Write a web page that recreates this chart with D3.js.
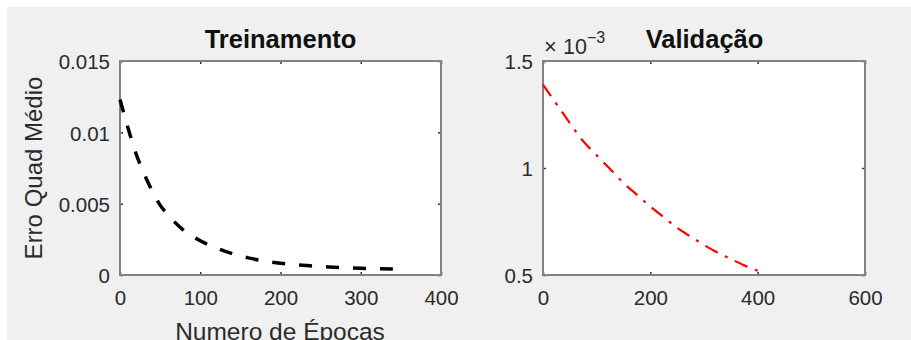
<!DOCTYPE html>
<html><head><meta charset="utf-8">
<script src="https://cdn.jsdelivr.net/npm/d3@7"></script>
<style>
body{margin:0;background:#fff;}
svg{display:block;font-family:"Liberation Sans",Arial,sans-serif;}
</style></head>
<body>
<svg id="c" width="911" height="340"></svg>
<script>
// ---- data ----
const trainEpochs = [0,10,20,30,40,50,60,80,100,120,140,160,180,200,220,240,260,280,300,320,340];
const trainErr = [0.0123,0.0103,0.0085,0.0071,0.0059,0.0049,0.0042,0.0031,0.0024,0.0019,0.0015,0.0012,0.00098,0.00082,0.00071,0.00063,0.00056,0.00051,0.00047,0.00044,0.00042];
const valEpochs = [0,25,50,75,100,125,150,175,200,225,250,275,300,325,350,375,400];
const valErr = [1.39e-3,1.30e-3,1.21e-3,1.125e-3,1.06e-3,0.995e-3,0.93e-3,0.875e-3,0.82e-3,0.77e-3,0.72e-3,0.68e-3,0.64e-3,0.605e-3,0.575e-3,0.545e-3,0.52e-3];
const trainXTicks = [0,100,200,300,400];
const trainYTicks = [0,0.005,0.01,0.015];
const trainYTickLabels = ["0","0.005","0.01","0.015"];
const valXTicks = [0,200,400,600];
const valYTicks = [0.5e-3,1e-3,1.5e-3];
const valYTickLabels = ["0.5","1","1.5"];
const titles = ["Treinamento","Validação"];
const xLabel = "Numero de Épocas";
const yLabel = "Erro Quad Médio";

const svg = d3.select("#c");
svg.append("rect").attr("x",7).attr("y",7).attr("width",904).attr("height",333).attr("fill","#f0f0f0");

const plotTop = 61, plotBottom = 275;
const tickCol = "#333", textCol = "#2b2b2b", fs = 20.5;

function panel(x0,x1,xDom,yDom,xTicks,yTicks,yLabels){
  const x = d3.scaleLinear().domain(xDom).range([x0,x1]);
  const y = d3.scaleLinear().domain(yDom).range([plotBottom,plotTop]);
  const g = svg.append("g");
  g.append("rect").attr("x",x0).attr("y",plotTop).attr("width",x1-x0).attr("height",plotBottom-plotTop).attr("fill","#fff");
  const style = (a)=>{ a.select(".domain").remove(); a.selectAll("line").attr("stroke",tickCol).attr("stroke-width",1.5);
    a.selectAll("text").attr("fill",textCol).attr("font-size",fs).attr("font-family","Liberation Sans, Arial, sans-serif"); };
  const ax = g.append("g").attr("transform",`translate(0,${plotBottom})`)
    .call(d3.axisBottom(x).tickValues(xTicks).tickSize(-3).tickFormat(d3.format("d")));
  style(ax); ax.selectAll("text").attr("y",30).attr("dy",0);
  const axT = g.append("g").attr("transform",`translate(0,${plotTop})`)
    .call(d3.axisTop(x).tickValues(xTicks).tickSize(-3).tickFormat(""));
  style(axT);
  const ay = g.append("g").attr("transform",`translate(${x0},0)`)
    .call(d3.axisLeft(y).tickValues(yTicks).tickSize(-3).tickFormat((d,i)=>yLabels[i]));
  style(ay); ay.selectAll("text").attr("x",-10).attr("dy","0.38em");
  const ayR = g.append("g").attr("transform",`translate(${x1},0)`)
    .call(d3.axisRight(y).tickValues(yTicks).tickSize(-3).tickFormat(""));
  style(ayR);
  g.append("rect").attr("x",x0).attr("y",plotTop).attr("width",x1-x0).attr("height",plotBottom-plotTop)
    .attr("fill","none").attr("stroke","#838383").attr("stroke-width",2);
  return {x,y,g};
}

// training
const p1 = panel(120,441,[0,400],[0,0.015],trainXTicks,trainYTicks,trainYTickLabels);
p1.g.append("path").datum(trainEpochs.map((e,i)=>[e,trainErr[i]]))
  .attr("d",d3.line().x(d=>p1.x(d[0])).y(d=>p1.y(d[1])).curve(d3.curveMonotoneX))
  .attr("fill","none").attr("stroke","#000").attr("stroke-width",3.5).attr("stroke-dasharray","13,14");
svg.append("text").attr("x",280.5).attr("y",48).attr("text-anchor","middle").attr("font-weight","bold")
  .attr("font-size",25.5).attr("fill","#111").text(titles[0]);
svg.append("text").attr("x",280).attr("y",340).attr("text-anchor","middle")
  .attr("font-size",24.5).attr("fill",textCol).text(xLabel);
svg.append("text").attr("transform","translate(42,168) rotate(-90)").attr("text-anchor","middle")
  .attr("font-size",24).attr("fill",textCol).text(yLabel);

// validation
const p2 = panel(543,865,[0,600],[0.5e-3,1.5e-3],valXTicks,valYTicks,valYTickLabels);
p2.g.append("path").datum(valEpochs.map((e,i)=>[e,valErr[i]]))
  .attr("d",d3.line().x(d=>p2.x(d[0])).y(d=>p2.y(d[1])).curve(d3.curveMonotoneX))
  .attr("fill","none").attr("stroke","#ff0000").attr("stroke-width",2.2).attr("stroke-dasharray","14,8,3,8");
svg.append("text").attr("x",704.5).attr("y",48).attr("text-anchor","middle").attr("font-weight","bold")
  .attr("font-size",25.5).attr("fill","#111").text(titles[1]);
svg.append("text").attr("x",544).attr("y",54).attr("font-size",22).attr("fill",textCol).text("×");
const ex = svg.append("text").attr("x",563).attr("y",54).attr("font-size",21.5).attr("fill",textCol);
ex.append("tspan").text("10");
ex.append("tspan").attr("font-size",16).attr("dy",-11).text("−3");
</script>
</body></html>
